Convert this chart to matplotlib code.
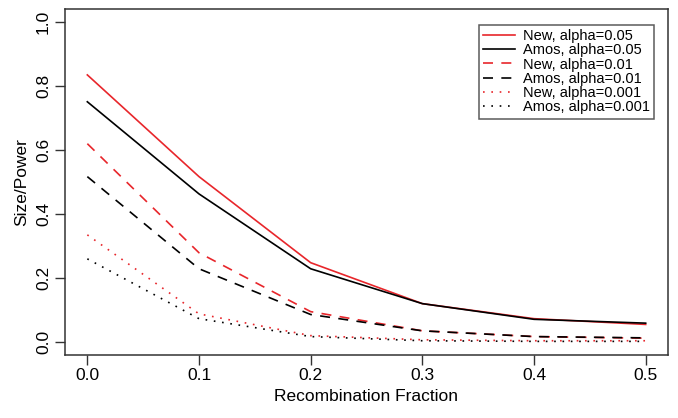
import matplotlib
matplotlib.use('Agg')
import matplotlib.pyplot as plt

plt.rcParams['font.family'] = ['Liberation Sans', 'DejaVu Sans']

recomb = [0.0, 0.1, 0.2, 0.3, 0.4, 0.5]

new_05 = [0.834, 0.516, 0.247, 0.119, 0.072, 0.054]
amos_05 = [0.750, 0.462, 0.228, 0.119, 0.070, 0.058]
new_01 = [0.619, 0.278, 0.094, 0.034, 0.016, 0.011]
amos_01 = [0.516, 0.228, 0.085, 0.034, 0.016, 0.012]
new_001 = [0.334, 0.087, 0.019, 0.006, 0.003, 0.003]
amos_001 = [0.259, 0.072, 0.016, 0.003, 0.001, 0.001]

labels = ['New, alpha=0.05', 'Amos, alpha=0.05', 'New, alpha=0.01',
          'Amos, alpha=0.01', 'New, alpha=0.001', 'Amos, alpha=0.001']

red = '#e8262b'

fig = plt.figure(figsize=[6.78, 4.18], dpi=100)
ax = fig.add_axes([65 / 678, 1 - 354.5 / 418, (668 - 65) / 678, (354.5 - 9) / 418])

ax.plot(recomb, new_05, color=red, lw=1.2, label=labels[0])
ax.plot(recomb, amos_05, color='black', lw=1.2, label=labels[1])
ax.plot(recomb, new_01, color=red, lw=1.2, linestyle=(0, (6, 5)), label=labels[2])
ax.plot(recomb, amos_01, color='black', lw=1.2, linestyle=(0, (6, 5)), label=labels[3])
ax.plot(recomb, new_001, color=red, lw=1.2, linestyle=(0, (1, 4)), label=labels[4])
ax.plot(recomb, amos_001, color='black', lw=1.2, linestyle=(0, (1, 4)), label=labels[5])

ax.set_xlim(-0.02, 0.52)
ax.set_ylim(-0.04, 1.04)
ax.set_xticks(recomb)
ax.set_xticklabels(['0.0', '0.1', '0.2', '0.3', '0.4', '0.5'])
ax.set_yticks([0.0, 0.2, 0.4, 0.6, 0.8, 1.0])
ax.set_yticklabels(['0.0', '0.2', '0.4', '0.6', '0.8', '1.0'], rotation=90, va='center')
ax.tick_params(direction='out', length=7, width=1, labelsize=12.5, color='#333333')
ax.tick_params(axis='x', pad=3)
ax.tick_params(axis='y', pad=3)
for s in ax.spines.values():
    s.set_linewidth(1.1)
    s.set_color('#333333')

ax.set_xlabel('Recombination Fraction', fontsize=12.5, labelpad=4)
ax.set_ylabel('Size/Power', fontsize=12.5, labelpad=5)

leg = ax.legend(loc='upper right', bbox_to_anchor=(0.977, 0.955), fontsize=10.5,
                frameon=True, fancybox=False, edgecolor='#333333',
                handlelength=2.2, handletextpad=0.5, labelspacing=0.02,
                borderpad=0.3, borderaxespad=0)
leg.get_frame().set_linewidth(1.1)

plt.savefig('out.png', dpi=100)
